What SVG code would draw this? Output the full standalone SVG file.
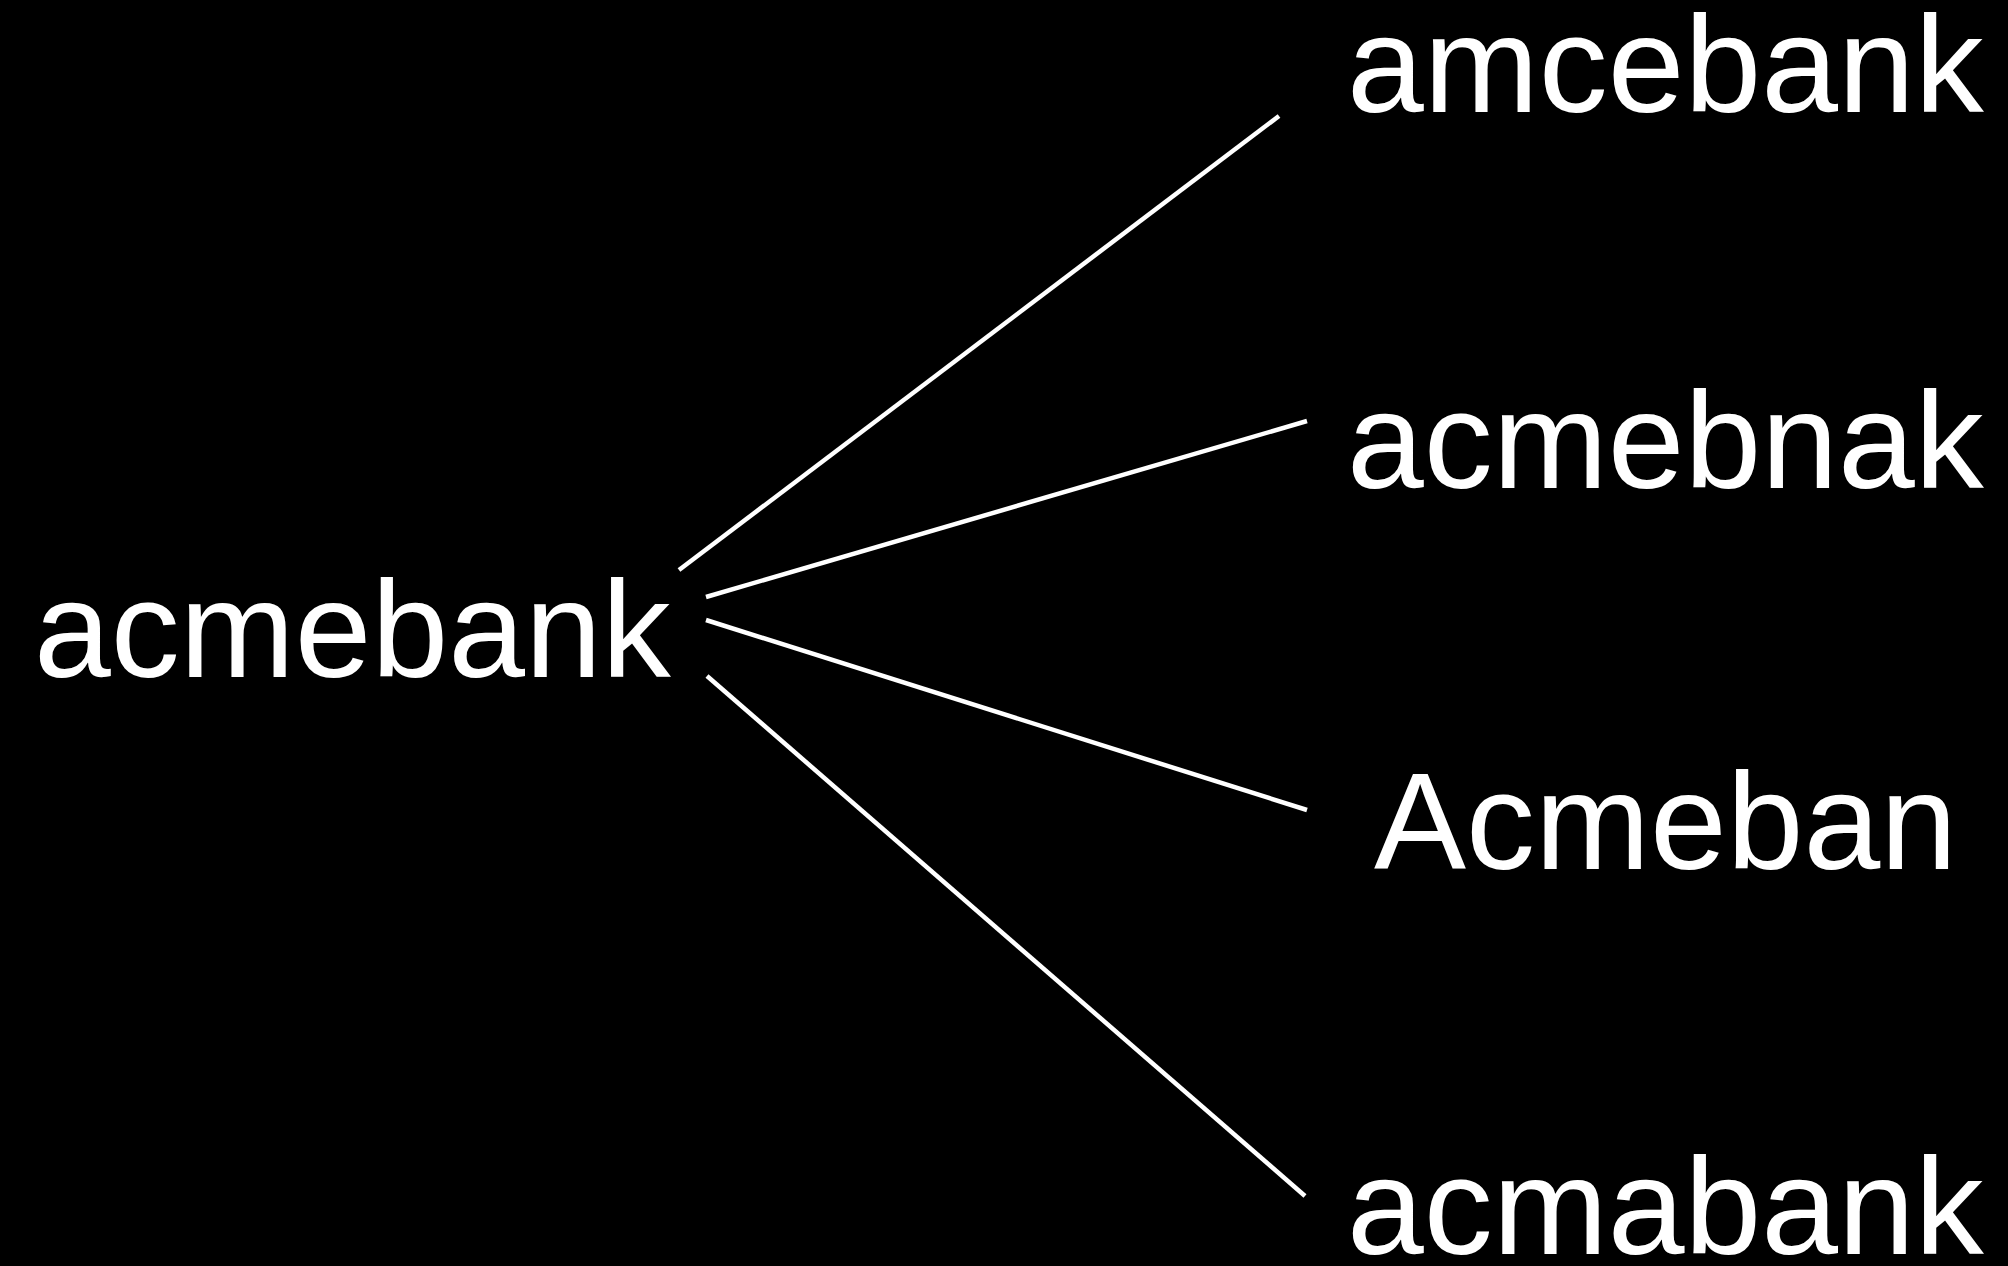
<svg xmlns="http://www.w3.org/2000/svg" width="2008" height="1266" viewBox="0 0 2008 1266">
  <style>
    .label { font-family: "Liberation Sans", Arial, Helvetica, sans-serif; font-size: 138px; fill: #ffffff; }
    .edge { stroke: #ffffff; stroke-width: 4.5; fill: none; stroke-linecap: butt; }
  </style>
  <rect x="0" y="0" width="2008" height="1266" fill="#000000"/>

  <!-- connectors from the source word to each variant -->
  <g id="connectors">
    <line class="edge" x1="679" y1="570" x2="1279" y2="116"/>
    <line class="edge" x1="706" y1="597" x2="1307" y2="421"/>
    <line class="edge" x1="706" y1="620" x2="1307" y2="810"/>
    <line class="edge" x1="707" y1="676" x2="1305" y2="1196"/>
  </g>

  <g id="node-source">
    <text class="label" x="34" y="677">acmebank</text>
  </g>
  <g id="node-amcebank">
    <text class="label" x="1347" y="112">amcebank</text>
  </g>
  <g id="node-acmebnak">
    <text class="label" x="1347" y="488">acmebnak</text>
  </g>
  <g id="node-acmeban">
    <text class="label" x="1374" y="869">Acmeban</text>
  </g>
  <g id="node-acmabank">
    <text class="label" x="1347" y="1254">acmabank</text>
  </g>
</svg>
